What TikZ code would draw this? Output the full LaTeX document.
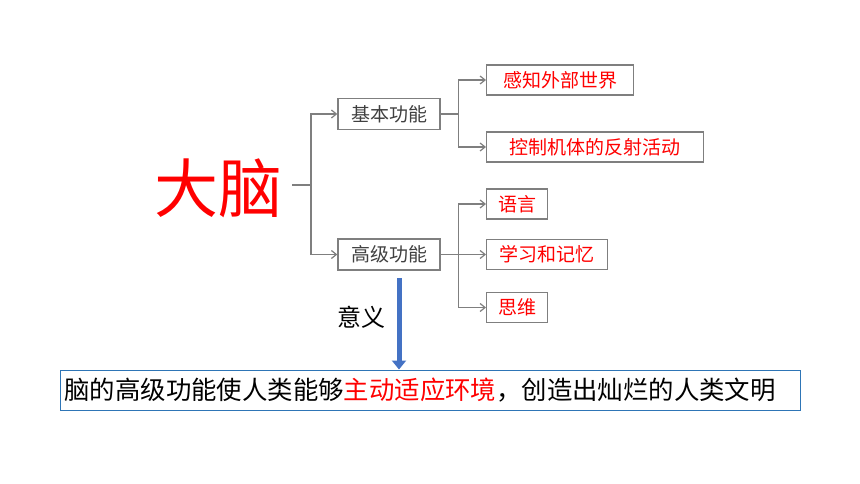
\documentclass[tikz,border=0pt]{standalone}
\usepackage{fontspec}
\newfontfamily\cjk{Noto Sans CJK SC}
\usetikzlibrary{arrows.meta}
\definecolor{boxgray}{HTML}{7F7F7F}
\definecolor{txtgray}{HTML}{404040}
\definecolor{arrblue}{HTML}{4472C4}
\definecolor{framblue}{HTML}{2E75B6}

\begin{document}
\begin{tikzpicture}[x=1pt,y=-1pt,
	every node/.style={font=\cjk},
	fbox/.style={draw=boxgray,line width=1.3pt,minimum height=31pt,inner sep=0pt,font=\cjk\fontsize{19}{19}\selectfont},
	subbox/.style={fbox,anchor=west,text=red,minimum height=30pt},
	conn/.style={draw=boxgray,line width=1.2pt},
	arr/.style={conn,-{Straight Barb[length=5pt,width=8pt]}},
	bigarr/.style={draw=arrblue,line width=5pt,-{Triangle[length=9pt,width=14pt]}}]
	\useasboundingbox (0,0) rectangle (860,484);
	% main topic
	\node[text=red,inner sep=0pt,font=\cjk\fontsize{64}{64}\selectfont] (dn) at (218,188) {大脑};
	\node[fbox,minimum width=102pt,text=txtgray] (jb) at (389,114) {基本功能};
	\node[fbox,minimum width=102pt,text=txtgray] (gj) at (389,254.5) {高级功能};
	% sub items
	\node[subbox,minimum width=147pt] (gz) at (486,80) {感知外部世界};
	\node[subbox,minimum width=217pt] (kz) at (486,147) {控制机体的反射活动};
	\node[subbox,minimum width=61pt] (yy) at (486,204) {语言};
	\node[subbox,minimum width=121pt] (xx) at (486,254.5) {学习和记忆};
	\node[subbox,minimum width=61pt] (sw) at (486,307.5) {思维};
	% connectors
	\coordinate (s0) at (292,185);
	\coordinate (j1) at (311,185);
	\draw[conn] (s0) -- (j1);
	\draw[arr] (j1) |- (jb.west);
	\draw[arr] (j1) |- (gj.west);
	\draw[arr] (jb.east) -- ++(18,0) |- (gz.west);
	\draw[arr] (jb.east) -- ++(18,0) |- (kz.west);
	\draw[arr] (gj.east) -- ++(18,0) |- (yy.west);
	\draw[arr] (gj.east) -- (xx.west);
	\draw[arr] (gj.east) -- ++(18,0) |- (sw.west);
	% meaning
	\node[font=\cjk\fontsize{24}{24}\selectfont] (yi) at (361,317) {意义};
	\node[draw=framblue,line width=1pt,anchor=west,minimum height=40pt,text width=732pt,inner xsep=4pt,align=left,font=\cjk\fontsize{25.4}{25.4}\selectfont] (res) at (60,390) {脑的高级功能使人类能够\textcolor{red}{主动适应环境}，创造出灿烂的人类文明};
	\coordinate (a0) at (399,278);
	\draw[bigarr] (a0) -- (a0 |- res.north);
\end{tikzpicture}
\end{document}
